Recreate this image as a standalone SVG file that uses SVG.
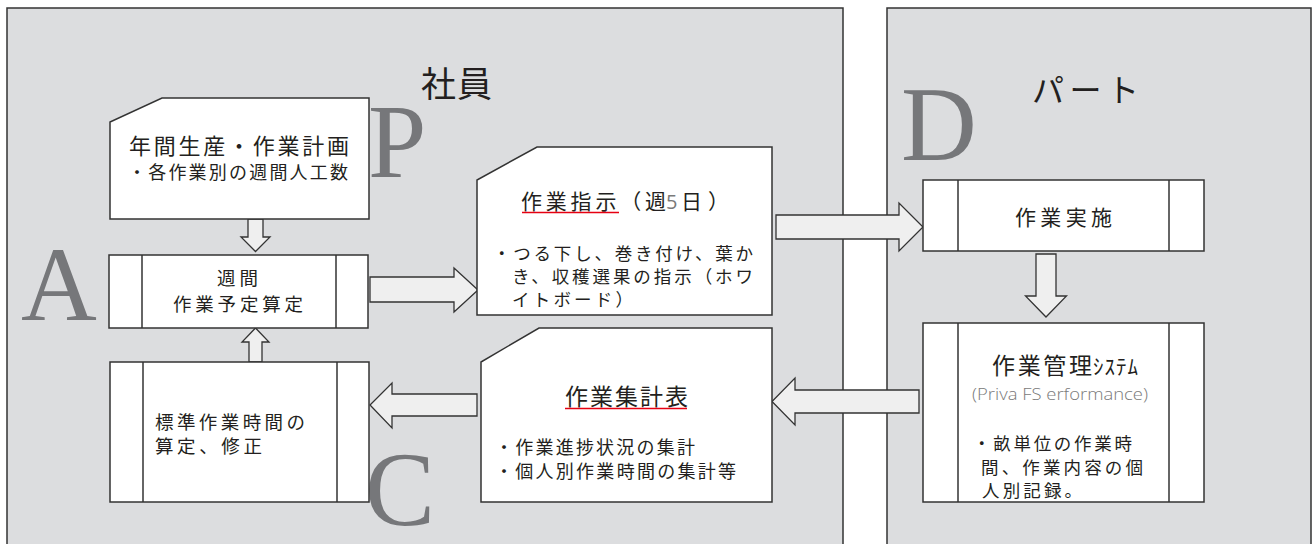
<svg xmlns="http://www.w3.org/2000/svg" width="1312" height="544" viewBox="0 0 1312 544">
<style>
.panel{fill:#dcdddf;stroke:#333;stroke-width:1.5}
.box{fill:#fff;stroke:#333;stroke-width:1.5}
.div{fill:none;stroke:#333;stroke-width:1.5}
.arr{fill:#efefef;stroke:#333;stroke-width:1.3;stroke-linejoin:miter}
.jp{font-family:"Noto Sans CJK JP","Noto Sans",sans-serif;fill:#231f20}
.big{font-family:"Liberation Serif",serif;font-size:105px;fill:#76777a}
.ul{stroke:#e60012;stroke-width:1.6}
.gray{font-family:"Open Sans","Noto Sans",sans-serif;font-weight:300;fill:#7a7a7a}
</style>
<rect width="1312" height="544" fill="#fff"/>
<g id="panels">
<rect class="panel" x="7" y="8" width="836" height="560"/>
<rect class="panel" x="887" y="8" width="424" height="560"/>
<text class="jp" x="421" y="97" font-size="35" textLength="71" lengthAdjust="spacing">社員</text>
<text class="jp" x="1032" y="102" font-size="32" textLength="107" lengthAdjust="spacing">パート</text>
<text class="big" x="368" y="177">P</text>
<text class="big" x="21" y="320">A</text>
<text class="big" x="901" y="160">D</text>
<text class="big" x="365" y="525">C</text>
</g>
<g id="connectors">
<polygon class="arr" points="248,219 263,219 263,237 270,237 255.5,251.5 241,237 248,237"/>
<polygon class="arr" points="249,362 262,362 262,342 269,342 255.5,328 242,342 249,342"/>
<polygon class="arr" points="370,277 454,277 454,268 478,290 454,312 454,302 370,302"/>
<polygon class="arr" points="776,215 899,215 899,203 923,227 899,251 899,239 776,239"/>
<polygon class="arr" points="1036,254 1056,254 1056,296 1066.5,296 1046,317 1025.5,296 1036,296"/>
<polygon class="arr" points="919,390 919,413 795,413 795,425 772,401.5 795,378 795,390"/>
<polygon class="arr" points="477,394 477,416 392,416 392,428 370,405 392,383 392,394"/>
</g>
<g id="plan">
<polygon class="box" points="162,98 369,98 369,219 110,219 110,122"/>
<text class="jp" x="129" y="153.5" font-size="22" textLength="220" lengthAdjust="spacing">年間生産・作業計画</text>
<text class="jp" x="128" y="178.5" font-size="18" textLength="220" lengthAdjust="spacing">・各作業別の週間人工数</text>
</g>
<g id="weekly">
<rect class="box" x="109" y="255" width="259" height="73"/>
<line class="div" x1="142" y1="255" x2="142" y2="328"/>
<line class="div" x1="336" y1="255" x2="336" y2="328"/>
<text class="jp" x="217" y="285" font-size="18.5" textLength="41" lengthAdjust="spacing">週間</text>
<text class="jp" x="173" y="311" font-size="18.5" textLength="130" lengthAdjust="spacing">作業予定算定</text>
</g>
<g id="standard">
<rect class="box" x="110" y="362" width="259" height="140"/>
<line class="div" x1="143" y1="362" x2="143" y2="502"/>
<line class="div" x1="337" y1="362" x2="337" y2="502"/>
<text class="jp" x="155" y="428.5" font-size="18.5" textLength="150" lengthAdjust="spacing">標準作業時間の</text>
<text class="jp" x="155" y="452.5" font-size="18.5" textLength="107" lengthAdjust="spacing">算定、修正</text>
</g>
<g id="instruction">
<polygon class="box" points="537,147 772,147 772,315 477,315 477,180"/>
<text class="jp" x="521" y="208.5" font-size="21" textLength="145" lengthAdjust="spacing">作業指示（週</text>
<text class="gray" x="666" y="208.5" font-size="20" style="font-weight:400">5</text>
<text class="jp" x="681" y="208.5" font-size="21" textLength="48" lengthAdjust="spacing">日）</text>
<line class="ul" x1="522" y1="212.5" x2="619" y2="212.5"/>
<text class="jp" x="493" y="259.5" font-size="17.5" textLength="260" lengthAdjust="spacing">・つる下し、巻き付け、葉か</text>
<text class="jp" x="512" y="283" font-size="17.5" textLength="241" lengthAdjust="spacing">き、収穫選果の指示（ホワ</text>
<text class="jp" x="512" y="305.5" font-size="17.5" textLength="121" lengthAdjust="spacing">イトボード）</text>
</g>
<g id="execution">
<rect class="box" x="923" y="180" width="281" height="71"/>
<line class="div" x1="958" y1="180" x2="958" y2="251"/>
<line class="div" x1="1169" y1="180" x2="1169" y2="251"/>
<text class="jp" x="1015" y="224.5" font-size="21" textLength="97" lengthAdjust="spacing">作業実施</text>
</g>
<g id="system">
<rect class="box" x="923" y="323" width="281" height="179"/>
<line class="div" x1="958" y1="323" x2="958" y2="502"/>
<line class="div" x1="1169" y1="323" x2="1169" y2="502"/>
<text class="jp" x="992" y="373.5" font-size="23" textLength="100" lengthAdjust="spacing">作業管理</text>
<text class="jp" x="1093" y="373.5" font-size="21" textLength="45" lengthAdjust="spacing">ｼｽﾃﾑ</text>
<text class="gray" x="972" y="400" font-size="16" textLength="176" lengthAdjust="spacingAndGlyphs">(Priva FS erformance)</text>
<text class="jp" x="973" y="450" font-size="17.5" textLength="159" lengthAdjust="spacing">・畝単位の作業時</text>
<text class="jp" x="981" y="473.5" font-size="17.5" textLength="162" lengthAdjust="spacing">間、作業内容の個</text>
<text class="jp" x="982" y="497" font-size="17.5" textLength="100" lengthAdjust="spacing">人別記録。</text>
</g>
<g id="summary">
<polygon class="box" points="539,328 772,328 772,502 481,502 481,362"/>
<text class="jp" x="565" y="404.5" font-size="23" textLength="123" lengthAdjust="spacing">作業集計表</text>
<line class="ul" x1="565" y1="408.5" x2="687" y2="408.5"/>
<text class="jp" x="495" y="453.5" font-size="18" textLength="200" lengthAdjust="spacing">・作業進捗状況の集計</text>
<text class="jp" x="495" y="477.5" font-size="18" textLength="241" lengthAdjust="spacing">・個人別作業時間の集計等</text>
</g>
</svg>
